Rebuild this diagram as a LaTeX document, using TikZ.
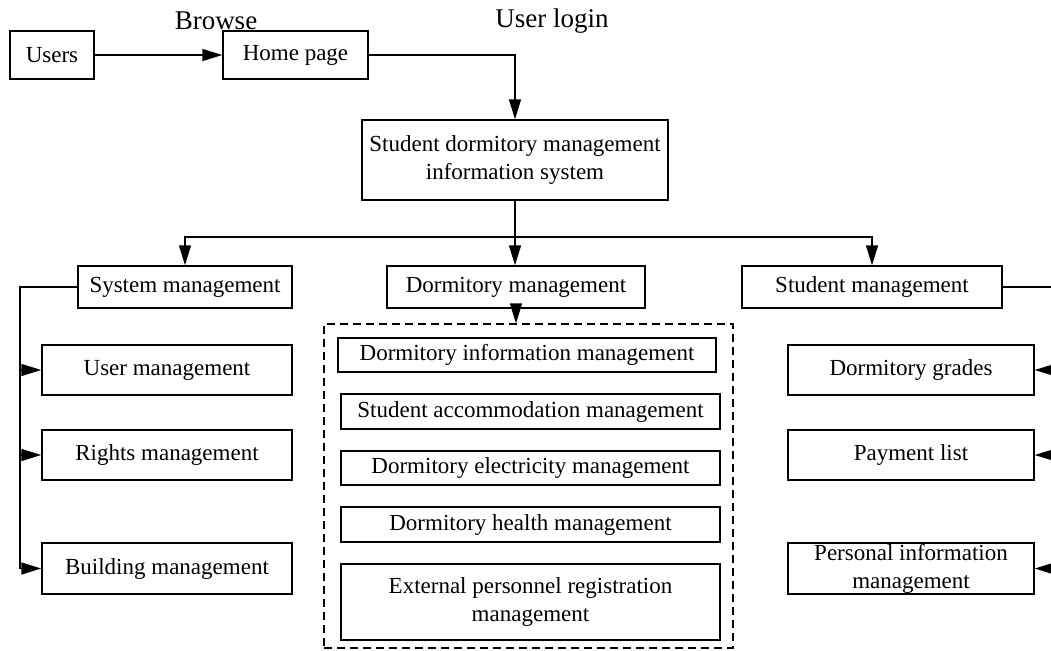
\documentclass[tikz,border=0pt]{standalone}
\usepackage{fontspec}
\setmainfont{Liberation Serif}
\usetikzlibrary{arrows.meta}

\begin{document}
\begin{tikzpicture}[x=.5pt, y=-.5pt,
        box/.style={draw, line width=.75pt, inner sep=0pt, align=center,
            font=\fontsize{11.5}{14}\selectfont},
        lbl/.style={inner sep=0pt, font=\fontsize{13.5}{16}\selectfont},
        arr/.style={line width=.75pt, -{Triangle[length=10pt, width=6pt]}},
        line/.style={line width=.75pt}
        ]
        \useasboundingbox (0,0) rectangle (1051,650);

        % top row
        \node[box, minimum width=42pt, minimum height=24pt] (users) at (52,55) {Users};
        \node[box, minimum width=72.5pt, minimum height=24pt] (home) at (295.5,55) {Home page};
        \node[lbl] (browse) at (216,21) {Browse};
        \node[lbl] (login) at (552,21) {User login};
        \node[box, minimum width=153pt, minimum height=40pt] (sdms) at (515,160)
            {Student dormitory management\\information system};

        % second level
        \node[box, minimum width=107pt, minimum height=21pt] (sysm) at (185,287) {System management};
        \node[box, minimum width=129pt, minimum height=21pt] (dorm) at (516,287) {Dormitory management};
        \node[box, minimum width=130pt, minimum height=21pt] (stum) at (872,287) {Student management};

        % system management
        \node[box, minimum width=125pt, minimum height=25pt] (userm) at (167,370) {User management};
        \node[box, minimum width=125pt, minimum height=25pt] (rights) at (167,455) {Rights management};
        \node[box, minimum width=125pt, minimum height=25.5pt] (building) at (167,568.5) {Building management};

        % dormitory management
        \node[draw, dashed, dash pattern=on 4pt off 2.5pt, line width=.6pt, inner sep=0pt,
            minimum width=204.5pt, minimum height=162pt] (grp) at (528.5,486) {};
        \node[box, minimum width=189pt, minimum height=17pt] (dinfo) at (527,355) {Dormitory information management};
        \node[box, minimum width=189.5pt, minimum height=17.5pt] (accom) at (530.5,411.5) {Student accommodation management};
        \node[box, minimum width=189.5pt, minimum height=17pt] (elec) at (530.5,468) {Dormitory electricity management};
        \node[box, minimum width=189.5pt, minimum height=17.5pt] (health) at (530.5,524.5) {Dormitory health management};
        \node[box, minimum width=189.5pt, minimum height=38pt] (extreg) at (530.5,602)
            {External personnel registration\\management};

        % student management
        \node[box, minimum width=123pt, minimum height=25pt] (grades) at (911,370) {Dormitory grades};
        \node[box, minimum width=123pt, minimum height=25pt] (payment) at (911,455) {Payment list};
        \node[box, minimum width=123pt, minimum height=25.5pt] (personal) at (911,568.5)
            {Personal information\\management};

        \coordinate (lbus) at (20,0);
        \coordinate (rbus) at (1060,0);

        \draw[arr] (users) -- (home);
        \draw[arr] (home.east) -| (sdms.north);
        \draw[line] (sdms.south) -- ++(0,36) coordinate (split);
        \draw[arr] (split) -| (sysm.north);
        \draw[arr] (split) -- (split |- dorm.north);
        \draw[arr] (split) -| (stum.north);
        \draw[arr] (dorm.south) -- (dorm.south |- grp.north);

        \draw[arr] (sysm.west) -- (sysm.west -| lbus) |- (building.west);
        \foreach \n in {userm, rights}
            \draw[arr] (\n.west -| lbus) -- (\n.west);

        \draw[arr] (stum.east) -- (stum.east -| rbus) |- (personal.east);
        \foreach \n in {grades, payment}
            \draw[arr] (\n.east -| rbus) -- (\n.east);
\end{tikzpicture}
\end{document}
